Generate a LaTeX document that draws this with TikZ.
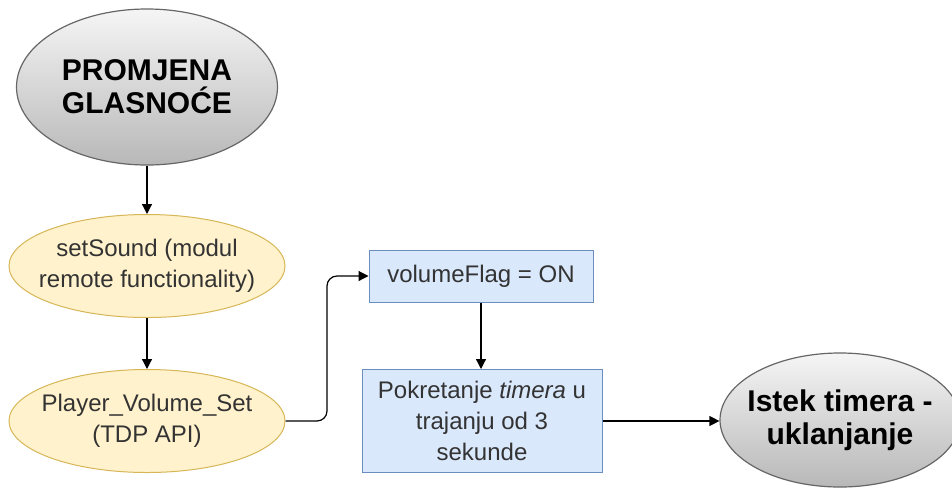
\documentclass[tikz,border=0pt]{standalone}
\usepackage{fontspec}
\setmainfont{Liberation Sans}
\usetikzlibrary{shapes.geometric,arrows.meta}
\definecolor{ystroke}{HTML}{D6B656}
\definecolor{yfill}{HTML}{FFF2CC}
\definecolor{bstroke}{HTML}{6C8EBF}
\definecolor{bfill}{HTML}{DAE8FC}
\definecolor{gstroke}{HTML}{666666}
\definecolor{gtop}{HTML}{F5F5F5}
\definecolor{gbot}{HTML}{B8B8B8}
\definecolor{txt}{HTML}{333333}
\tikzset{
  grayell/.style={ellipse, draw=gstroke, line width=1.2pt, top color=gtop, bottom color=gbot, inner sep=0pt},
  graytext/.style={align=center, font=\fontsize{30}{33}\selectfont\bfseries, text=black, inner sep=0pt},
  yell/.style={ellipse, draw=ystroke, line width=1pt, fill=yfill, inner sep=0pt},
  normtext/.style={align=center, font=\fontsize{24}{31}\selectfont, text=txt, inner sep=0pt},
  bbox/.style={rectangle, draw=bstroke, line width=1pt, fill=bfill, inner sep=0pt, normtext},
  conn/.style={draw=black, line width=1.2pt, -{Triangle[length=10pt,width=10pt]}}
}
\begin{document}
\begin{tikzpicture}[x=1pt,y=-1pt]
\useasboundingbox (0,0) rectangle (952,491);
\begin{scope}
\clip (0,0) rectangle (952,491);
\node[grayell, minimum width=261pt, minimum height=156pt,
  label={[graytext]center:PROMJENA\\GLASNOĆE}] (start) at (147,87) {};
\node[yell, minimum width=276pt, minimum height=103pt,
  label={[normtext]center:setSound (modul\\remote functionality)}] (set) at (147,266) {};
\node[yell, minimum width=276pt, minimum height=103pt,
  label={[normtext]center:Player\_Volume\_Set\\(TDP API)}] (pvs) at (147,421) {};
\node[bbox, minimum width=224pt, minimum height=52pt] (flag) at (481,276) {volumeFlag = ON};
\node[bbox, minimum width=240pt, minimum height=103pt] (timer) at (482,421) {Pokretanje \textit{timera} u\\trajanju od 3\\sekunde};
\node[grayell, minimum width=240pt, minimum height=134pt,
  label={[graytext]center:Istek timera -\\uklanjanje}] (end) at (840,420) {};
\end{scope}
\draw[conn] (start.south) -- (set.north);
\draw[conn] (set.south) -- (pvs.north);
\draw[conn, rounded corners=10pt] (pvs.east) -- (327,421) -- (327,276) -- (flag.west);
\draw[conn] (flag.south) -- (flag.south |- timer.north);
\draw[conn] (timer.east) -- (end.west |- timer.east);
\end{tikzpicture}
\end{document}
